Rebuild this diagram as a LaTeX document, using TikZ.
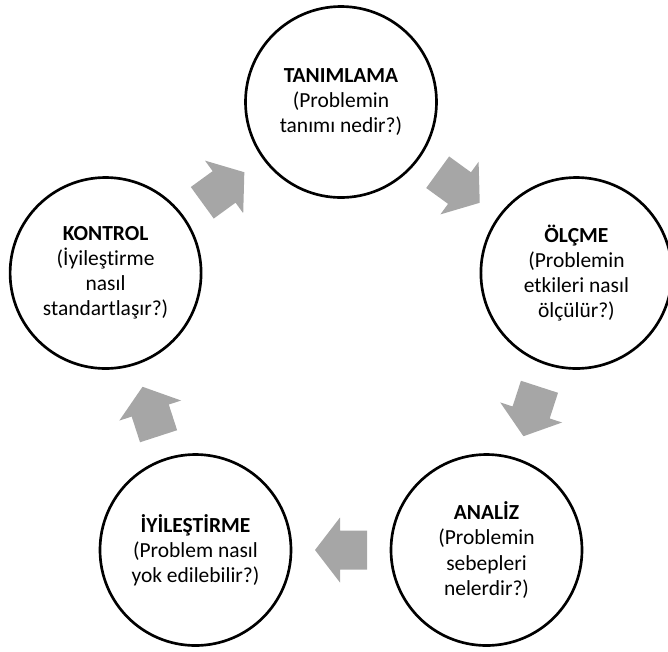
\documentclass[tikz,border=0pt]{standalone}
\usepackage{fontspec}
\setmainfont[Ligatures=NoCommon]{Carlito}
\usetikzlibrary{calc}

\definecolor{arrowgray}{HTML}{A6A6A6}

\tikzset{
  stage/.style={circle, draw=black, line width=2pt, fill=white,
    minimum size=191*0.75pt, inner sep=0pt, align=center,
    font=\fontsize{16.1}{18.8}\selectfont,
    execute at begin node={\rule{0pt}{16.5pt}}},
  cyclearrow/.style={fill=arrowgray, draw=none},
}

\begin{document}
\begin{tikzpicture}[x=0.75pt, y=-0.75pt]
  \useasboundingbox (0,0) rectangle (668,651);
  \clip (0,0) rectangle (668,651);

  % the five stages of the improvement cycle
  \node[stage] (t) at (341,102)   {\textbf{TANIMLAMA}\\(Problemin\\tanımı nedir?)};
  \node[stage] (o) at (576.4,273) {\textbf{ÖLÇME}\\(Problemin\\etkileri nasıl\\ölçülür?)};
  \node[stage] (a) at (486.5,550) {\textbf{ANALİZ}\\(Problemin\\sebepleri\\nelerdir?)};
  \node[stage] (i) at (195.5,550) {\textbf{İYİLEŞTİRME}\\(Problem nasıl\\yok edilebilir?)};
  \node[stage] (k) at (105.6,273) {\textbf{KONTROL}\\(İyileştirme\\nasıl\\standartlaşır?)};

  % block arrows halfway between consecutive stages, pointing clockwise
  \foreach \s/\e in {t/o, o/a, a/i, i/k, k/t} {
    \coordinate (arr-\s\e) at ($(\s.center)!0.5!(\e.center)$);
    \path let \p1=(\s.center), \p2=(\e.center),
              \n1={atan2(\y2-\y1,\x2-\x1)} in
      [cyclearrow, shift={(arr-\s\e)}, rotate=\n1]
      (-26,-19.5) -- (1,-19.5) -- (1,-32.5) -- (26,0)
      -- (1,32.5) -- (1,19.5) -- (-26,19.5) -- cycle;
  }
\end{tikzpicture}
\end{document}
